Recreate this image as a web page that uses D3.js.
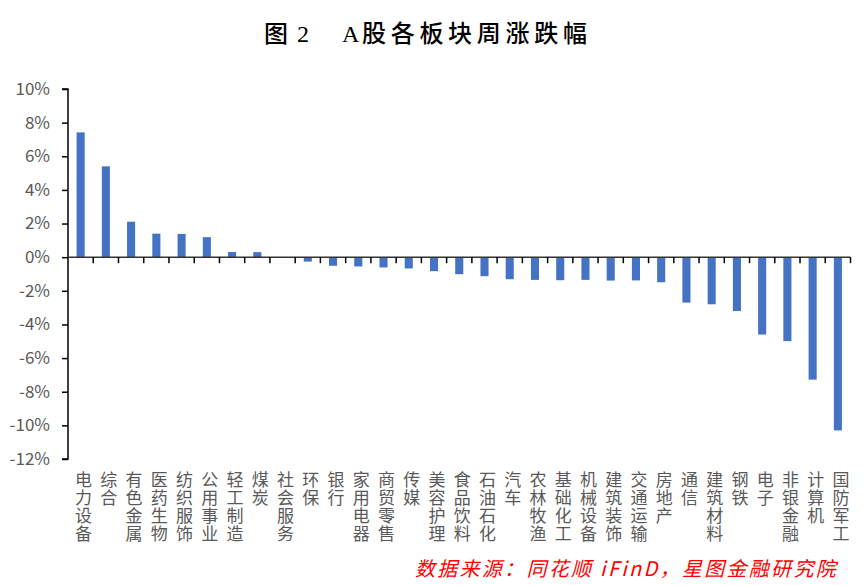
<!DOCTYPE html>
<html>
<head>
<meta charset="utf-8">
<script src="https://cdn.jsdelivr.net/npm/d3@7"></script>
<style>
  html, body { margin: 0; padding: 0; background: #fff; }
  svg { display: block; }
</style>
</head>
<body>
<svg id="chart" width="865" height="585"></svg>
<script>
const categories = ["电力设备","综合","有色金属","医药生物","纺织服饰","公用事业","轻工制造","煤炭","社会服务","环保","银行","家用电器","商贸零售","传媒","美容护理","食品饮料","石油石化","汽车","农林牧渔","基础化工","机械设备","建筑装饰","交通运输","房地产","通信","建筑材料","钢铁","电子","非银金融","计算机","国防军工"];
const values = [7.42, 5.40, 2.11, 1.40, 1.38, 1.19, 0.31, 0.30, 0.0, -0.26, -0.51, -0.55, -0.61, -0.67, -0.83, -1.01, -1.13, -1.31, -1.35, -1.37, -1.35, -1.39, -1.38, -1.49, -2.70, -2.80, -3.20, -4.60, -4.99, -7.28, -10.30];
const yTicks = [10, 8, 6, 4, 2, 0, -2, -4, -6, -8, -10, -12];
const titleParts = ["图", "2", "A", "股各板块周涨跌幅"];
const sourceText = "数据来源：同花顺 iFinD，星图金融研究院";

const svg = d3.select("#chart");
const margin = {left: 68, right: 850.5, top: 89, bottom: 459};

const x = d3.scaleBand().domain(categories).range([margin.left, margin.right]).paddingInner(0.68).paddingOuter(0.34);
const xb = d3.scaleBand().domain(categories).range([margin.left, margin.right]);
const y = d3.scaleLinear().domain([-12, 10]).range([margin.bottom, margin.top]);

// Title
const title = svg.append("text")
  .attr("y", 42)
  .attr("font-family", "'Liberation Serif','Noto Sans CJK SC',serif")
  .attr("font-size", 24)
  .attr("font-weight", 500)
  .attr("fill", "#000");
const titleX = [264, 297, 342, 362];
titleParts.forEach((t, i) => {
  title.append("tspan").attr("x", titleX[i]).text(t)
    .attr("letter-spacing", i === 3 ? 4.7 : 0);
});

// Bars
svg.append("g").selectAll("rect").data(values).join("rect")
  .attr("x", (d, i) => x(categories[i]))
  .attr("width", x.bandwidth())
  .attr("y", d => y(Math.max(0, d)))
  .attr("height", d => Math.abs(y(d) - y(0)))
  .attr("fill", "#4472C4");

// Y axis
const yAxis = d3.axisLeft(y).tickValues(yTicks).tickFormat(d => d + "%").tickSize(6).tickPadding(12);
const gy = svg.append("g").attr("transform", `translate(${margin.left},0)`).call(yAxis);
gy.select(".domain").attr("stroke", "#000").attr("stroke-width", 1.5).attr("d", `M-6,${margin.top}H0V${margin.bottom}H-6`);
gy.selectAll(".tick line").attr("stroke", "#000").attr("stroke-width", 1.5);
gy.selectAll(".tick text")
  .attr("font-family", "'Noto Sans CJK SC', sans-serif")
  .attr("font-size", 17)
  .attr("fill", "#595959");

// X axis at zero line
const boundaries = d3.range(categories.length + 1).map(i => margin.left + i * xb.step());
const gx = svg.append("g");
gx.append("line")
  .attr("x1", margin.left).attr("x2", margin.right)
  .attr("y1", y(0)).attr("y2", y(0))
  .attr("stroke", "#333").attr("stroke-width", 1.5);
gx.selectAll("line.tk").data(boundaries.slice(1)).join("line").attr("class", "tk")
  .attr("x1", d => d).attr("x2", d => d)
  .attr("y1", y(0)).attr("y2", y(0) + 6)
  .attr("stroke", "#000").attr("stroke-width", 1.5);

// Category labels (vertical, one character per row)
const labelTop = 486;
const pitch = 18.1;
const lab = svg.append("g")
  .attr("font-family", "'Noto Sans CJK SC', sans-serif")
  .attr("font-size", 17)
  .attr("fill", "#595959");
categories.forEach((c) => {
  const cx = xb(c) + xb.bandwidth() / 2 + 3;
  Array.from(c).forEach((ch, j) => {
    lab.append("text")
      .attr("text-anchor", "middle")
      .attr("x", cx)
      .attr("y", labelTop + j * pitch)
      .text(ch);
  });
});

// Source
svg.append("text")
  .attr("x", 838).attr("y", 576)
  .attr("text-anchor", "end")
  .attr("font-family", "'Noto Sans CJK SC', serif")
  .attr("font-size", 20)
  .attr("font-style", "italic")
  .attr("letter-spacing", 2.3)
  .attr("fill", "#FF0000")
  .text(sourceText);
</script>
</body>
</html>
